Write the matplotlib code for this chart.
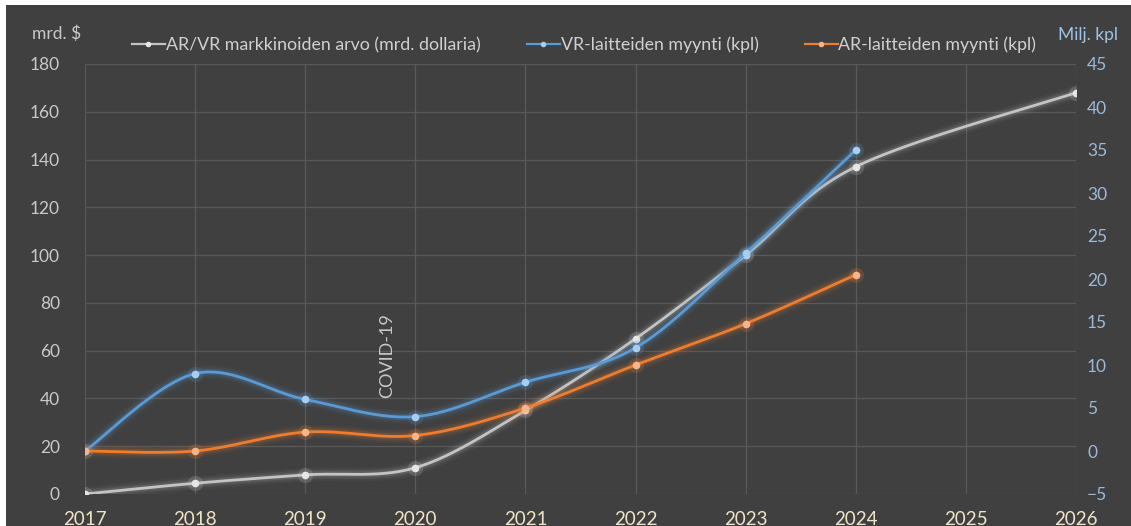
import numpy as np
import matplotlib
matplotlib.use("Agg")
import matplotlib.pyplot as plt
from matplotlib.lines import Line2D
from matplotlib.patches import Rectangle

plt.rcParams['font.family'] = ['Lato', 'DejaVu Sans']

# ---------------- data ----------------
years = [2017, 2018, 2019, 2020, 2021, 2022, 2023, 2024, 2025, 2026]
market_years = [2017, 2018, 2019, 2020, 2021, 2022, 2023, 2024, 2026]
market_value = [0, 4.5, 8, 11, 35, 65, 100, 137, 168]          # mrd. $ (left axis)
device_years = [2017, 2018, 2019, 2020, 2021, 2022, 2023, 2024]
vr_sales = [0, 9, 6, 4, 8, 12, 23, 35]                          # milj. kpl (right axis)
ar_sales = [0, 0, 2.2, 1.8, 5, 10, 14.8, 20.5]                  # milj. kpl (right axis)
left_ticks = [0, 20, 40, 60, 80, 100, 120, 140, 160, 180]
right_ticks = [-5, 0, 5, 10, 15, 20, 25, 30, 35, 40, 45]
labels = ["AR/VR markkinoiden arvo (mrd. dollaria)",
          "VR-laitteiden myynti (kpl)",
          "AR-laitteiden myynti (kpl)"]
annotation = "COVID-19"
annotation_pos = (2019.74, 58)


def excel_smooth(xs, ys, n=40):
    p = np.column_stack([xs, ys]).astype(float)
    out = []
    for i in range(len(p) - 1):
        p0 = p[i - 1] if i > 0 else p[i]
        p1, p2 = p[i], p[i + 1]
        p3 = p[i + 2] if i + 2 < len(p) else p[i + 1]
        c1 = p1 + (p2 - p0) / 6.0
        c2 = p2 - (p3 - p1) / 6.0
        t = np.linspace(0, 1, n)[:, None]
        seg = ((1 - t) ** 3) * p1 + 3 * ((1 - t) ** 2) * t * c1 + 3 * (1 - t) * t ** 2 * c2 + t ** 3 * p2
        out.append(seg if i == 0 else seg[1:])
    s = np.vstack(out)
    return s[:, 0], s[:, 1]


W, H = 1131, 526
BG = '#404040'
fig = plt.figure(figsize=(W / 100, H / 100), dpi=100, facecolor='white')
fig.patches.append(Rectangle((6 / W, 0), 1, 1 - 5 / H, transform=fig.transFigure,
                             facecolor=BG, edgecolor='none', zorder=-10))

ax = fig.add_axes([85 / W, 1 - 494 / H, (1076 - 85) / W, (494 - 64) / H])
ax.set_facecolor(BG)
ax2 = ax.twinx()
ax2.patch.set_visible(False)

for a in (ax, ax2):
    for sp in a.spines.values():
        sp.set_visible(False)

ax.set_xlim(2017, 2026)
ax.set_ylim(0, 180)
ax2.set_ylim(-5, 45)
ax.set_xticks(years)
ax.set_xticklabels([str(y) for y in years])
ax.set_yticks(left_ticks)
ax2.set_yticks(right_ticks)
ax.grid(True, color='#595959', linewidth=0.9)
ax.set_axisbelow(True)

ax.tick_params(axis='x', length=0, pad=12, labelsize=13.5, labelcolor='#efe5c6')
ax.tick_params(axis='y', length=0, pad=18, labelsize=12.5, labelcolor='#c9c9c9')
ax2.tick_params(axis='y', length=0, pad=8, labelsize=12.5, labelcolor='#9db9d6')


def glow_line(a, xs, ys, color, glow, mcolor, gscale=1.0):
    sx, sy = excel_smooth(xs, ys)
    for lw, al in [(10, 0.05), (7, 0.09), (4.5, 0.14)]:
        a.plot(sx, sy, color=glow, lw=lw, alpha=al * gscale, solid_capstyle='round', zorder=3)
    ln, = a.plot(sx, sy, color=color, lw=2, zorder=4)
    a.plot(xs, ys, 'o', color=glow, ms=11, alpha=0.18, mec='none', zorder=4)
    a.plot(xs, ys, 'o', color=mcolor, ms=5.5, mec='none', zorder=5)
    return ln


glow_line(ax, market_years, market_value, '#c4c4c4', '#d8d8d8', '#e6e6e6', gscale=0.8)
glow_line(ax2, device_years, vr_sales, '#5b9bd5', '#5b9bd5', '#a9cdef')
glow_line(ax2, device_years, ar_sales, '#ed7d31', '#ed7d31', '#f6b48a')

ax.text(annotation_pos[0], annotation_pos[1], annotation, rotation=90, ha='center', va='center',
        fontsize=13, color='#c8c8c8', zorder=6)

# axis titles
fig.text(32 / W, 1 - 34 / H, "mrd. $", fontsize=12.5, color='#c9c9c9', ha='left', va='center')
fig.text(1118 / W, 1 - 35 / H, "Milj. kpl", fontsize=12.5, color='#9dc3e6', ha='right', va='center')

# legend
handles = [
    Line2D([], [], color='#c4c4c4', lw=1.6, marker='o', ms=4, mfc='#e6e6e6', mec='none'),
    Line2D([], [], color='#5b9bd5', lw=1.6, marker='o', ms=4, mfc='#a9cdef', mec='none'),
    Line2D([], [], color='#ed7d31', lw=1.6, marker='o', ms=4, mfc='#f6b48a', mec='none'),
]
leg = fig.legend(handles, labels, loc='center left', bbox_to_anchor=(132 / W, 1 - 45 / H),
                 ncol=3, frameon=False, fontsize=12.8, handlelength=1.85, handletextpad=0.05,
                 columnspacing=2.6, borderaxespad=0, borderpad=0)
for t in leg.get_texts():
    t.set_color('#d0d0d0')

fig.savefig('out.png', dpi=100, facecolor=fig.get_facecolor())
